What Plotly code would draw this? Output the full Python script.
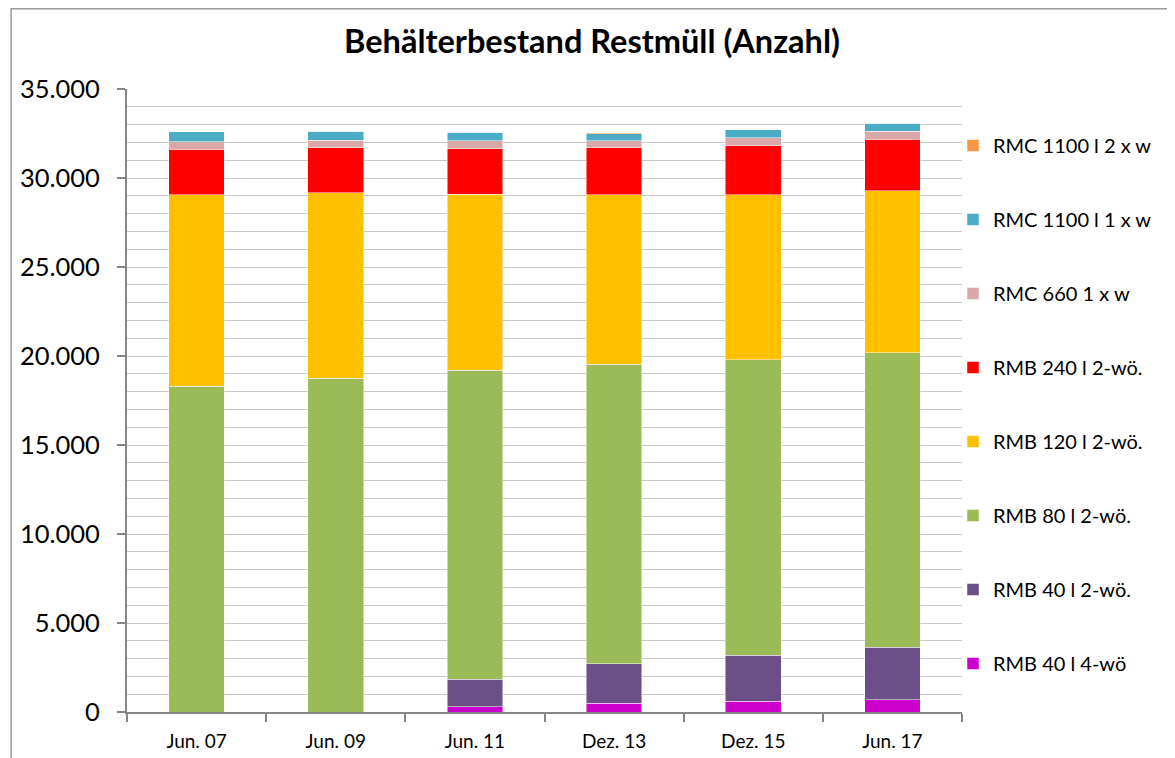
import plotly.graph_objects as go

# Stichtage
categories = ["Jun. 07", "Jun. 09", "Jun. 11", "Dez. 13", "Dez. 15", "Jun. 17"]

# Behälter je Typ (Anzahl), von unten nach oben gestapelt
rmb40_4w = [0, 0, 300, 490, 600, 690]
rmb40_2w = [0, 0, 1540, 2210, 2590, 2940]
rmb80_2w = [18300, 18760, 17370, 16850, 16590, 16540]
rmb120_2w = [10760, 10410, 9890, 9510, 9280, 9100]
rmb240_2w = [2550, 2520, 2530, 2630, 2760, 2920]
rmc660_1w = [430, 420, 450, 410, 440, 430]
rmc1100_1w = [560, 510, 490, 400, 440, 450]
rmc1100_2w = [0, 0, 0, 50, 0, 0]

series = [
    ("RMB 40 l 4-wö", rmb40_4w, "#CC00CC"),
    ("RMB 40 l 2-wö.", rmb40_2w, "#6A5087"),
    ("RMB 80 l 2-wö.", rmb80_2w, "#9BBB59"),
    ("RMB 120 l 2-wö.", rmb120_2w, "#FFC000"),
    ("RMB 240 l 2-wö.", rmb240_2w, "#FF0000"),
    ("RMC 660 1 x w", rmc660_1w, "#DAA8A8"),
    ("RMC 1100 l 1 x w", rmc1100_1w, "#4BACC6"),
    ("RMC 1100 l 2 x w", rmc1100_2w, "#F79646"),
]

FONT = "Lato"
W, H = 1175, 758
# page has an 8px body margin, so figure coords = page coords - 8
L, R, T, B = 117, 954, 81, 704  # plot area in figure pixels

fig = go.Figure()
for i, (name, vals, color) in enumerate(series):
    fig.add_trace(go.Bar(
        x=categories, y=vals, name=name,
        legendgroup=name,
        legendrank=100 - i,
        marker=dict(color=color, line=dict(width=0.8, color='rgba(255,255,255,0.6)')),
    ))

# chart frame (Excel chart area border)
pw, ph = R - L, B - T
fig.add_shape(
    type='rect', xref='paper', yref='paper',
    x0=(0.8 - L) / pw, x1=(1250 - L) / pw,
    y0=(B - 900) / ph, y1=(B - 0.8) / ph,
    line=dict(color='#9a9a9a', width=1.5), layer='below',
)

fig.update_layout(
    width=W, height=H,
    barmode='stack',
    bargap=0.6,
    paper_bgcolor='white',
    plot_bgcolor='white',
    separators=',.',
    font=dict(family=FONT, color='black'),
    title=dict(
        text="<b>Behälterbestand Restmüll (Anzahl)</b>",
        font=dict(family=FONT, size=32.5, color='black'),
        x=584 / W, xanchor='center',
        y=1 - 34 / H, yanchor='middle',
    ),
    xaxis=dict(
        showline=True, linecolor='#868686', linewidth=2,
        ticks='outside', tickson='boundaries', ticklen=8,
        tickcolor='#868686', tickwidth=1.5,
        tickfont=dict(size=19, color='black'),
        ticklabelstandoff=11,
        showgrid=False,
    ),
    yaxis=dict(
        range=[0, 35000], dtick=5000,
        tickformat=',d',
        showline=True, linecolor='#868686', linewidth=2,
        ticks='outside', ticklen=8, tickcolor='#868686', tickwidth=1.5,
        tickfont=dict(size=25.5, color='black'),
        ticklabelstandoff=12,
        showgrid=True, gridcolor='#C8C8C8', gridwidth=1.2,
        zeroline=False,
        minor=dict(dtick=1000, showgrid=True, gridcolor='#C8C8C8', gridwidth=1.2, ticks=''),
    ),
    legend=dict(
        traceorder='grouped',
        tracegroupgap=45,
        x=(954 - 9 - L) / pw, xanchor='left',
        y=(B - 118) / ph, yanchor='top',
        font=dict(size=20, color='black'),
        bgcolor='rgba(0,0,0,0)',
        itemwidth=30,
    ),
    margin=dict(l=L, r=W - R, t=T, b=H - B),
)

fig.write_html("out.html")
